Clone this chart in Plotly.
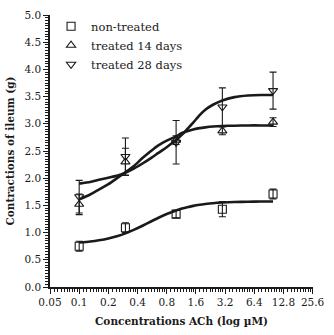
import math
import plotly.graph_objects as go

# ---- data ----
conc = [0.1, 0.3, 1, 3, 10]

nt_mean = [0.75, 1.09, 1.34, 1.43, 1.71]
nt_err = [0.09, 0.09, 0.07, 0.14, 0.09]

t14_mean = [1.52, 2.30, 2.70, 2.87, 3.03]
t14_err = [0.19, 0.25, 0.08, 0.07, 0.08]

t28_mean = [1.66, 2.40, 2.66, 3.31, 3.61]
t28_err = [0.30, 0.34, 0.40, 0.35, 0.34]

# fitted curves
curve_x = [0.1, 0.13, 0.16, 0.2, 0.25, 0.3, 0.37, 0.45, 0.55, 0.65, 0.8, 1.0,
           1.15, 1.3, 1.5, 1.75, 2.0, 2.4, 3.0, 4.0, 5.5, 7.5, 10]
nt_curve = [0.818, 0.836, 0.858, 0.891, 0.937, 0.986, 1.054, 1.126, 1.204, 1.269, 1.342, 1.408,
            1.442, 1.467, 1.491, 1.511, 1.525, 1.540, 1.552, 1.562, 1.568, 1.571, 1.573]
t14_curve = [1.61, 1.70, 1.79, 1.89, 2.01, 2.11, 2.23, 2.37, 2.50, 2.60, 2.69, 2.77,
             2.83, 2.865, 2.895, 2.92, 2.935, 2.95, 2.96, 2.965, 2.97, 2.97, 2.97]
t28_curve = [1.90, 1.93, 1.97, 2.01, 2.05, 2.10, 2.18, 2.27, 2.37, 2.46, 2.57, 2.70,
             2.80, 2.90, 3.02, 3.16, 3.26, 3.35, 3.43, 3.49, 3.52, 3.53, 3.53]

x_ticks = [0.05, 0.1, 0.2, 0.4, 0.8, 1.6, 3.2, 6.4, 12.8, 25.6]
x_ticktext = ["0.05", "0.1", "0.2", "0.4", "0.8", "1.6", "3.2", "6.4", "12.8", "25.6"]

series_names = ["non-treated", "treated 14 days", "treated 28 days"]
symbols = ["square-open", "triangle-up-open", "triangle-down-open"]

# minor ticks on x: 9 per doubling interval
x_minor = []
for a in x_ticks[:-1]:
    for k in range(1, 10):
        x_minor.append(a + k * a / 10.0)

INK = "#1a1a1a"
FONT = "DejaVu Serif"

fig = go.Figure()

for cy in [nt_curve, t14_curve, t28_curve]:
    fig.add_trace(go.Scatter(
        x=curve_x, y=cy, mode="lines",
        line=dict(color=INK, width=2.6, shape="spline", smoothing=0.6),
        showlegend=False, hoverinfo="skip"))

for i, (m, e) in enumerate([(nt_mean, nt_err), (t14_mean, t14_err), (t28_mean, t28_err)]):
    fig.add_trace(go.Scatter(
        x=conc, y=m, mode="markers", name=series_names[i],
        marker=dict(symbol=symbols[i], size=8, color=INK, line=dict(width=1.1, color=INK)),
        error_y=dict(type="data", array=e, visible=True, color=INK, thickness=1.1, width=3.5),
    ))

fig.update_layout(
    width=334, height=335,
    margin=dict(l=44, r=11, t=9, b=43),
    paper_bgcolor="white", plot_bgcolor="white",
    font=dict(family=FONT, size=11, color=INK),
    showlegend=True,
    legend=dict(x=0.004, y=1.012, xanchor="left", yanchor="top", bgcolor="rgba(0,0,0,0)",
                font=dict(family=FONT, size=11.5, color=INK)),
)

fig.update_xaxes(
    type="log", autorange=False,
    range=[math.log10(0.05), math.log10(25.6) + 0.004],
    tickvals=x_ticks, ticktext=x_ticktext, ticklabeloverflow="allow",
    showgrid=False, zeroline=False,
    showline=True, linecolor=INK, linewidth=1.5,
    ticks="outside", ticklen=5, tickwidth=1.2, tickcolor=INK,
    tickfont=dict(family=FONT, size=10.5, color=INK),
    minor=dict(tickvals=x_minor, ticks="outside", ticklen=3, tickwidth=1, tickcolor=INK, showgrid=False),
    title=dict(text="<b>Concentrations ACh (log µM)</b>", font=dict(family=FONT, size=10.5, color=INK), standoff=10),
)

fig.update_yaxes(
    range=[0, 5], autorange=False, dtick=0.5, tick0=0, tickformat=".1f",
    showgrid=False, zeroline=False,
    showline=True, linecolor=INK, linewidth=1.5,
    ticks="outside", ticklen=5, tickwidth=1.2, tickcolor=INK,
    tickfont=dict(family=FONT, size=10.5, color=INK),
    minor=dict(dtick=0.05, ticks="outside", ticklen=3, tickwidth=1, tickcolor=INK, showgrid=False),
    title=dict(text="<b>Contractions of ileum (g)</b>", font=dict(family=FONT, size=10.5, color=INK), standoff=8),
)

fig.write_html("out.html")
